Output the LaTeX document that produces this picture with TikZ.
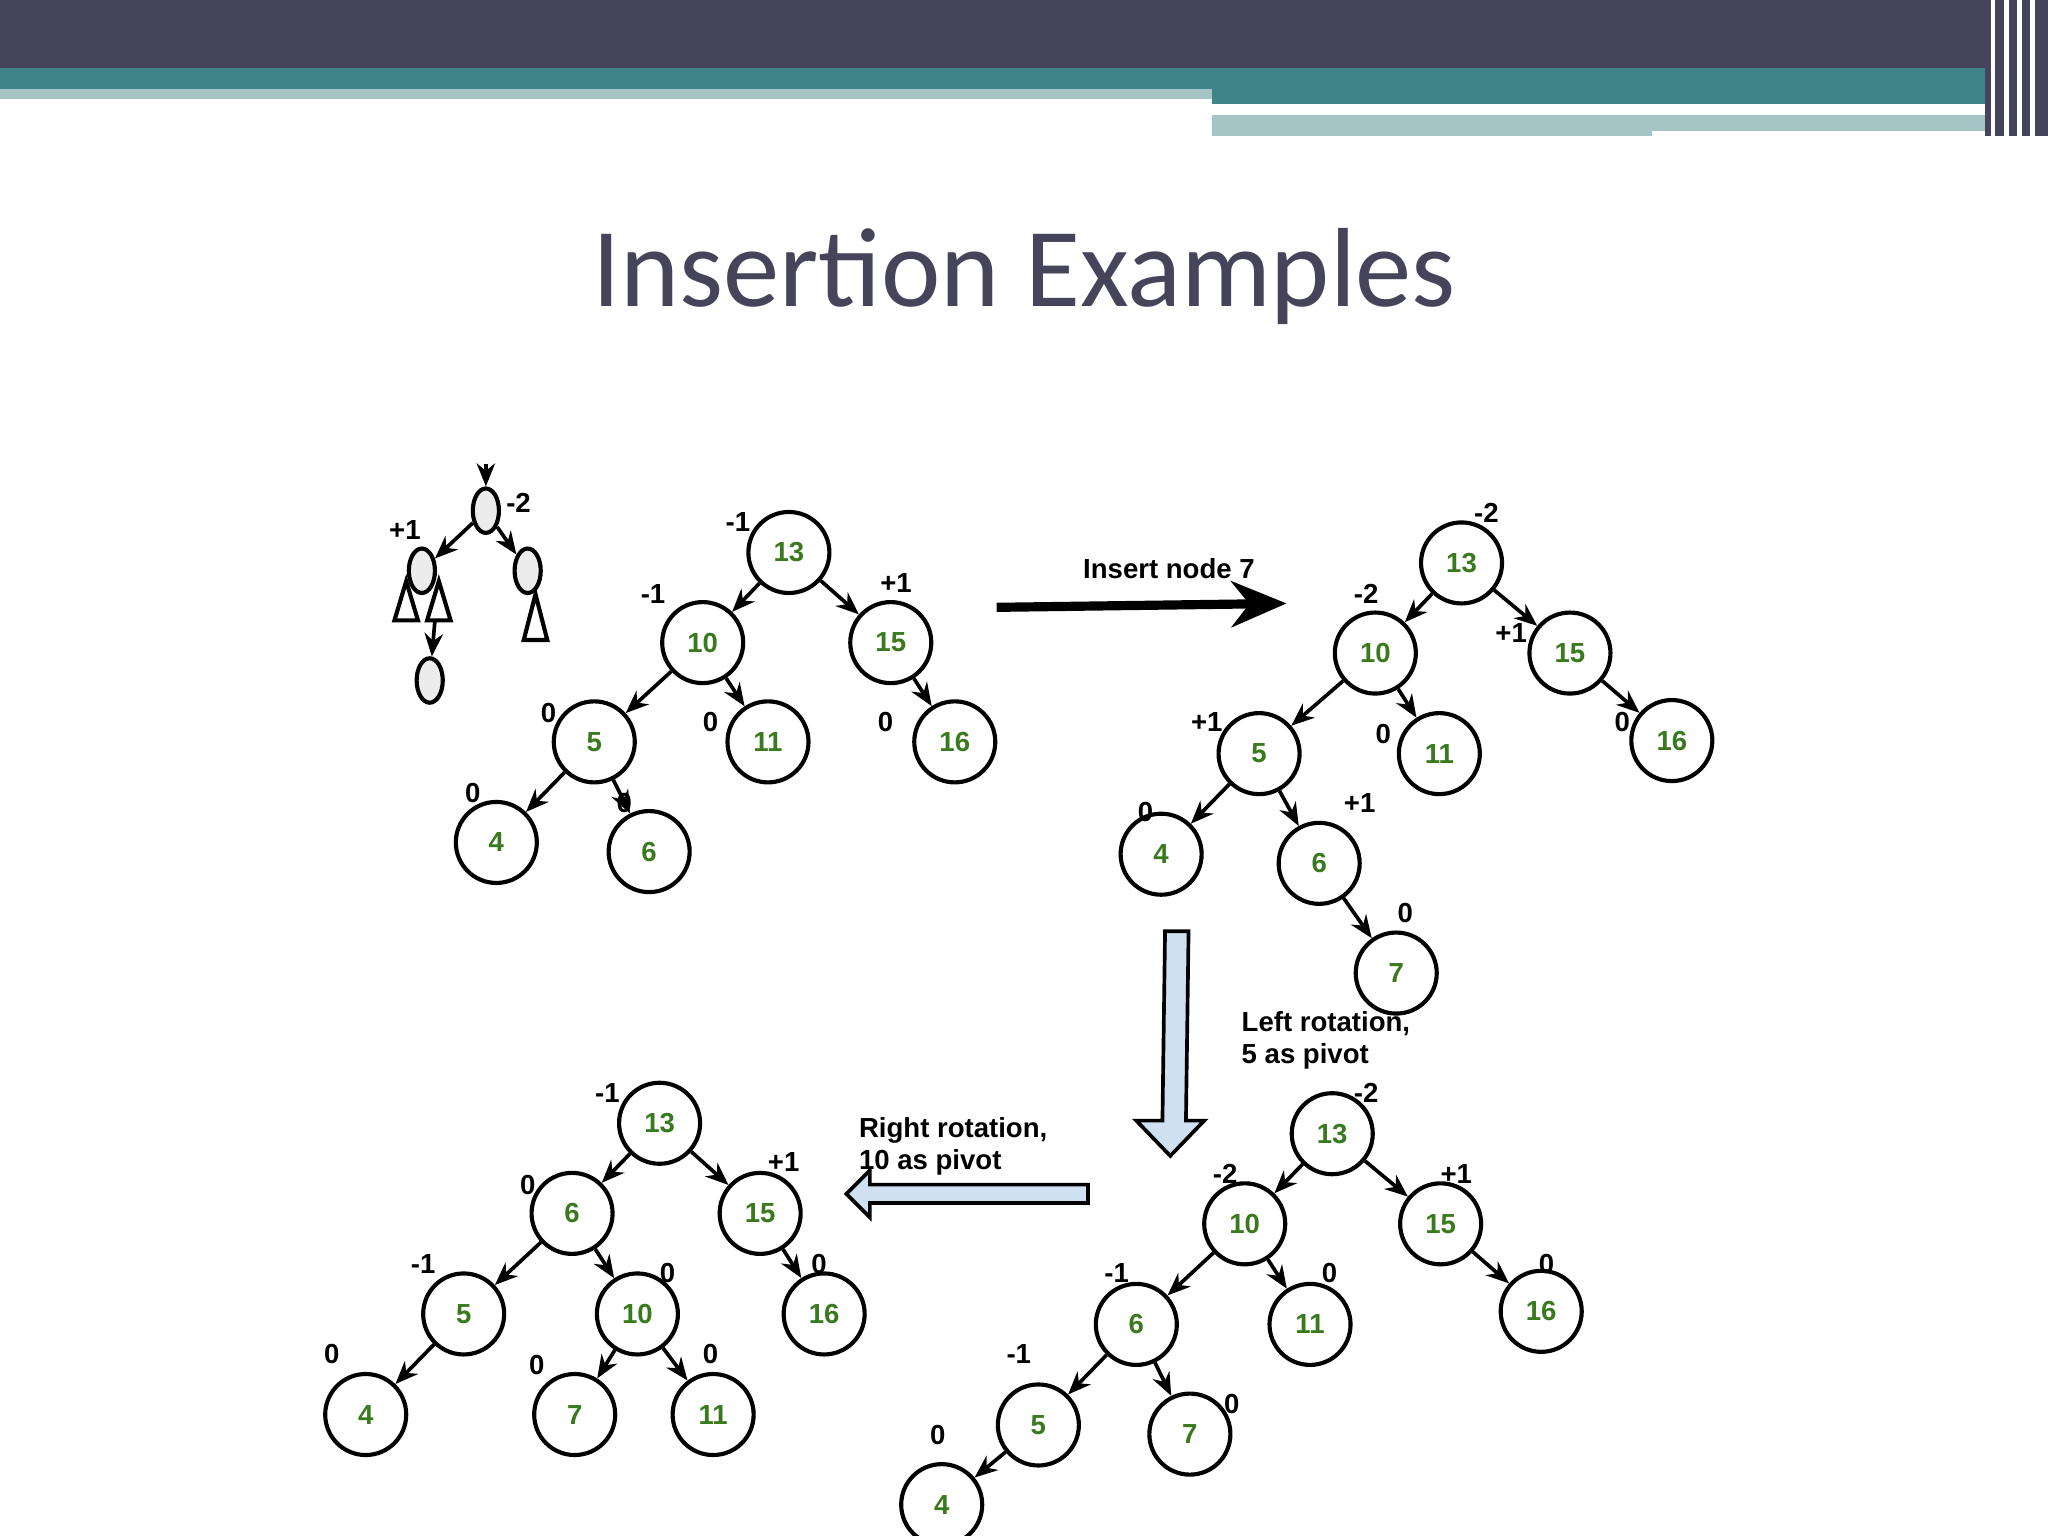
\documentclass[tikz,border=0pt]{standalone}
\usepackage{fontspec}
\setmainfont{Liberation Sans}
\newfontfamily\titlefont{Carlito}
\usetikzlibrary{arrows.meta,shapes.geometric}
\definecolor{hdark}{HTML}{45445A}
\definecolor{hteal}{HTML}{3F8487}
\definecolor{hlight}{HTML}{A5C4C6}
\definecolor{ngreen}{HTML}{3A7A1E}
\definecolor{arrblue}{HTML}{CFE0F0}
\tikzset{
 x=0.01cm,y=-0.01cm,
 tn/.style={circle,draw,line width=0.9pt,minimum size=0.62cm,inner sep=0pt,font=\bfseries\fontsize{6}{7}\selectfont,text=ngreen},
 bl/.style={font=\bfseries\fontsize{6}{7}\selectfont},
 ed/.style={line width=0.8pt,-{Stealth[length=5pt,width=4pt]}},
 el/.style={ellipse,draw,fill=gray!15,line width=0.9pt,minimum width=0.2cm,minimum height=0.34cm,inner sep=0pt},
}
\begin{document}
\begin{tikzpicture}
\useasboundingbox (0,0) rectangle (1568,1176);
\fill[white] (0,0) rectangle (1568,1176);
% header
\fill[hdark] (0,0) rectangle (1520,52);
\fill[hteal] (0,52) rectangle (1520,68);
\fill[hlight] (0,68) rectangle (928,76);
\fill[hteal] (928,68) rectangle (1520,80);
\fill[hlight] (928,88) rectangle (1265,104);
\fill[hlight] (1265,88) rectangle (1540,100);
\draw[white,line width=1pt] (928,86) -- (1452,86);
\fill[hdark] (1520,0) rectangle (1568,104);
\foreach \xx in {1526,1536,1546,1556}{\draw[white,line width=1pt] (\xx,0) -- (\xx,104);}
\node[font=\titlefont\fontsize{24.5}{28}\selectfont,text=hdark] (title) at (784,212) {Insertion Examples};
% schematic
\node[el] (sa) at (372,391) {};
\node[el] (sb) at (323,437) {};
\node[el] (sc) at (404,437) {};
\node[el] (sd) at (329,521) {};
\coordinate (stop) at (372,355);
\draw[ed] (stop) -- (sa);
\draw[ed] (sa) -- (sb);
\draw[ed] (sa) -- (sc);
\draw[line width=0.9pt] (311,445) -- (302,475) -- (320,475) -- cycle;
\draw[line width=0.9pt] (336,445) -- (327,475) -- (345,475) -- cycle;
\draw[line width=0.9pt] (410,455) -- (401,490) -- (419,490) -- cycle;
\coordinate (stri) at (333,475);
\draw[ed] (stri) -- (sd);
\node[bl] at (397,385) {-2};
\node[bl] at (310,406) {+1};
% tree 1
\node[tn] (a13) at (604,423) {13};
\node[tn] (a10) at (538,492) {10};
\node[tn] (a15) at (682,492) {15};
\node[tn] (a5) at (455,568) {5};
\node[tn] (a11) at (588,568) {11};
\node[tn] (a16) at (731,568) {16};
\node[tn] (a4) at (380,645) {4};
\node[tn] (a6) at (497,652) {6};
\foreach \p/\c in {a13/a10,a13/a15,a10/a5,a10/a11,a15/a16,a5/a4,a5/a6}{\draw[ed] (\p) -- (\c);}
\foreach \t/\xx/\yy in {-1/565/400,-1/500/455,+1/686/446,0/420/546,0/544/553,0/678/553,0/362/607,0/478/615}{\node[bl] at (\xx,\yy) {\t};}
% insert arrow
\coordinate (ia) at (763,465); \coordinate (ib) at (985,462);
\draw[line width=2pt,-{Stealth[length=12pt,width=10pt]}] (ia) -- (ib);
\node[bl] (il) at (895,435) {Insert node 7};
% tree 2
\node[tn] (b13) at (1119,431) {13};
\node[tn] (b10) at (1053,500) {10};
\node[tn] (b15) at (1202,500) {15};
\node[tn] (b5) at (964,577) {5};
\node[tn] (b11) at (1102,577) {11};
\node[tn] (b16) at (1280,567) {16};
\node[tn] (b4) at (889,654) {4};
\node[tn] (b6) at (1010,661) {6};
\node[tn] (b7) at (1069,745) {7};
\foreach \p/\c in {b13/b10,b13/b15,b10/b5,b10/b11,b15/b16,b5/b4,b5/b6,b6/b7}{\draw[ed] (\p) -- (\c);}
\foreach \t/\xx/\yy in {-2/1138/393,-2/1046/455,+1/1157/485,+1/924/553,0/1059/562,0/1242/553,0/877/622,+1/1041/615,0/1076/699}{\node[bl] at (\xx,\yy) {\t};}
% down arrow
\draw[fill=arrblue,line width=0.8pt] (892,713) -- (910,713) -- (908,858) -- (922,858) -- (896,885) -- (870,858) -- (890,858) -- cycle;
\node[bl,font=\bfseries\fontsize{6}{7}\selectfont,align=left,anchor=north west,inner sep=0pt] (lr) at (950,774) {Left rotation,\\5 as pivot};
% tree 3
\node[tn] (c13) at (1020,868) {13};
\node[tn] (c10) at (953,937) {10};
\node[tn] (c15) at (1103,937) {15};
\node[tn] (c6) at (870,1014) {6};
\node[tn] (c11) at (1003,1014) {11};
\node[tn] (c16) at (1180,1004) {16};
\node[tn] (c5) at (795,1091) {5};
\node[tn] (c7) at (911,1098) {7};
\node[tn] (c4) at (721,1152) {4};
\foreach \p/\c in {c13/c10,c13/c15,c10/c6,c10/c11,c15/c16,c6/c5,c6/c7,c5/c4}{\draw[ed] (\p) -- (\c);}
\foreach \t/\xx/\yy in {-2/1046/837,-2/938/899,+1/1115/899,-1/855/975,0/1018/975,0/1184/968,-1/780/1037,0/943/1075,0/718/1099}{\node[bl] at (\xx,\yy) {\t};}
% left arrow
\draw[fill=arrblue,line width=0.8pt] (833,907) -- (833,921) -- (666,921) -- (666,932) -- (648,914) -- (666,896) -- (666,907) -- cycle;
\node[bl,font=\bfseries\fontsize{6}{7}\selectfont,align=left,anchor=north west,inner sep=0pt] (rr) at (657,855) {Right rotation,\\10 as pivot};
% tree 4
\node[tn] (d13) at (505,860) {13};
\node[tn] (d6) at (438,929) {6};
\node[tn] (d15) at (582,929) {15};
\node[tn] (d5) at (355,1006) {5};
\node[tn] (d10) at (488,1006) {10};
\node[tn] (d16) at (631,1006) {16};
\node[tn] (d4) at (280,1083) {4};
\node[tn] (d7) at (440,1083) {7};
\node[tn] (d11) at (546,1083) {11};
\foreach \p/\c in {d13/d6,d13/d15,d6/d5,d6/d10,d15/d16,d5/d4,d10/d7,d10/d11}{\draw[ed] (\p) -- (\c);}
\foreach \t/\xx/\yy in {-1/465/837,0/404/907,+1/600/890,-1/324/968,0/511/975,0/627/968,0/254/1037,0/411/1045,0/544/1037}{\node[bl] at (\xx,\yy) {\t};}
\end{tikzpicture}
\end{document}
